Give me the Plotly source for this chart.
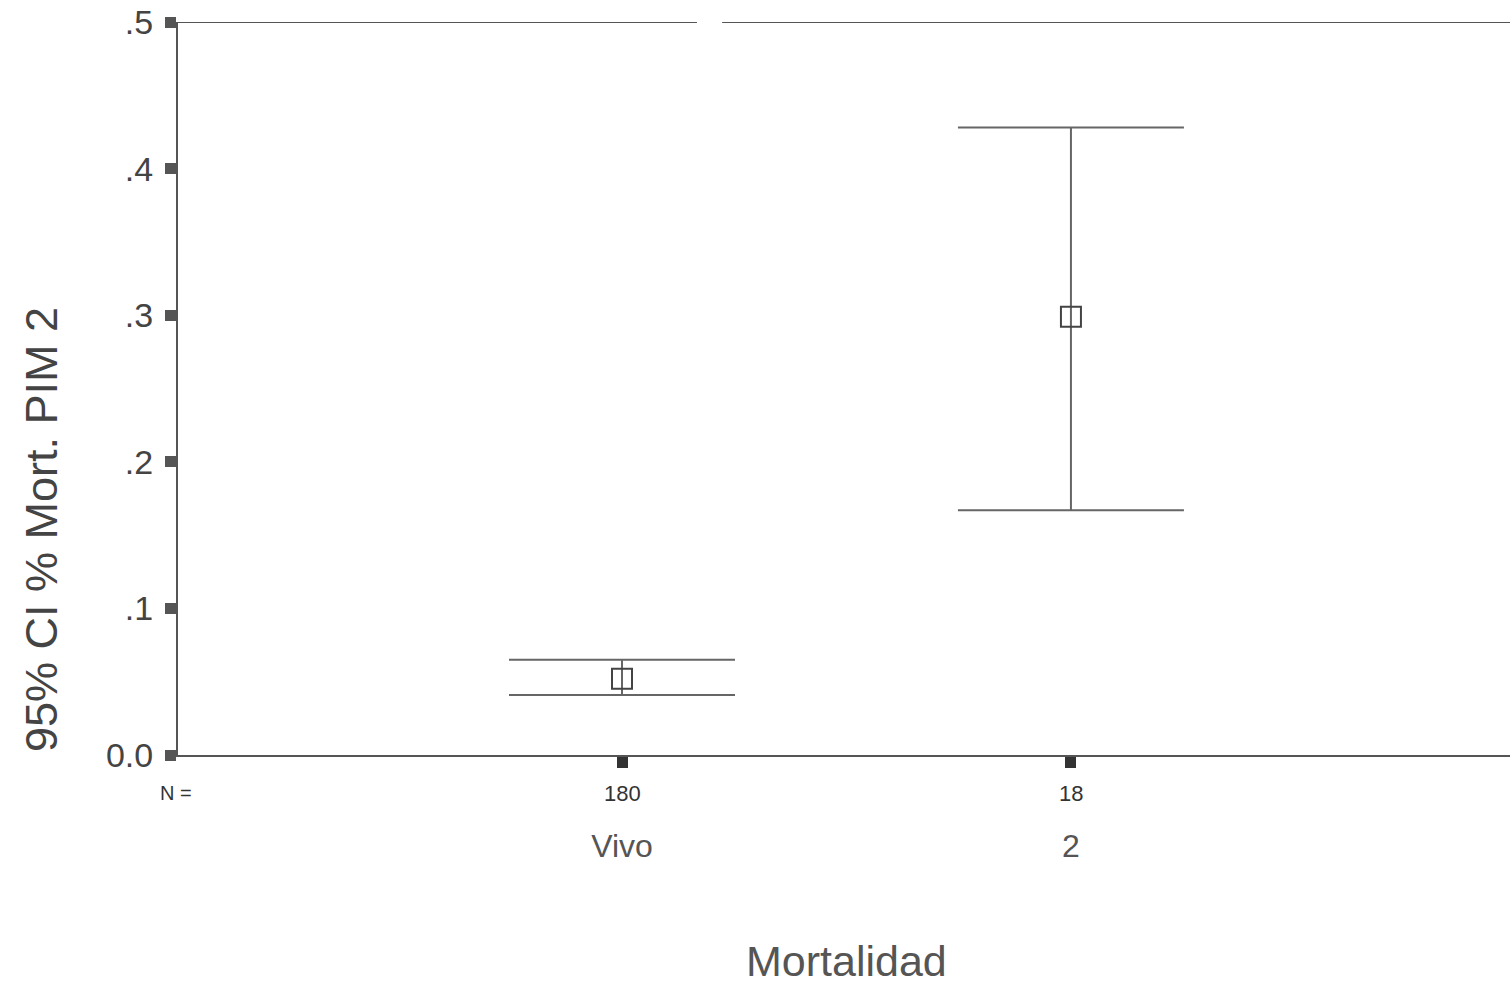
import plotly.graph_objects as go

# Group means of predicted mortality (PIM 2) with 95% confidence limits
categories = ["Vivo", "2"]
group_n = [180, 18]
mean_mort = [0.052, 0.299]
ci_lower = [0.041, 0.167]
ci_upper = [0.065, 0.428]

y_ticks = [0.0, 0.1, 0.2, 0.3, 0.4, 0.5]
y_tick_labels = ["0.0", ".1", ".2", ".3", ".4", ".5"]

x_pos = list(range(1, len(categories) + 1))
err_plus = [u - m for u, m in zip(ci_upper, mean_mort)]
err_minus = [m - l for m, l in zip(mean_mort, ci_lower)]

FONT = "Arial, Liberation Sans, sans-serif"
INK = "#555555"

fig = go.Figure()
fig.add_trace(go.Scatter(
    x=x_pos,
    y=mean_mort,
    mode="markers",
    marker=dict(symbol="square-open", size=20, color="#444444",
                line=dict(width=2, color="#444444")),
    error_y=dict(type="data", symmetric=False, array=err_plus,
                 arrayminus=err_minus, width=113, thickness=2,
                 color="#666666"),
    showlegend=False,
    hoverinfo="skip",
))

# Case counts under each group
N_ROW_Y = -0.052
fig.add_annotation(x=-0.0015, y=N_ROW_Y, xref="paper", yref="paper", text="N =",
                   showarrow=False, xanchor="center", yanchor="middle",
                   font=dict(family=FONT, size=20, color="#333333"))
for xp, n in zip(x_pos, group_n):
    fig.add_annotation(x=xp, y=N_ROW_Y, xref="x", yref="paper", text=str(n),
                       showarrow=False, yanchor="middle",
                       font=dict(family=FONT, size=22, color="#333333"))

# Axis titles
fig.add_annotation(x=-0.102, y=0.307, xref="paper", yref="paper",
                   text="95% CI % Mort. PIM 2", textangle=-90, showarrow=False,
                   xanchor="center", yanchor="middle",
                   font=dict(family=FONT, size=45, color="#444444"))
fig.add_annotation(x=0.502, y=-0.281, xref="paper", yref="paper",
                   text="Mortalidad", showarrow=False,
                   xanchor="center", yanchor="middle",
                   font=dict(family=FONT, size=43, color=INK))

# Top frame border (with its small break)
fig.add_shape(type="line", xref="x", yref="y", x0=0.011, x1=1.167, y0=0.5, y1=0.5,
              line=dict(color=INK, width=2))
fig.add_shape(type="line", xref="x", yref="y", x0=1.223, x1=2.978, y0=0.5, y1=0.5,
              line=dict(color=INK, width=2))

fig.update_layout(
    width=1510, height=990,
    margin=dict(l=178, r=0, t=22, b=235),
    paper_bgcolor="white", plot_bgcolor="white",
    font=dict(family=FONT, color=INK),
    xaxis=dict(
        range=[0.011, 2.978],
        tickmode="array", tickvals=x_pos, ticktext=categories,
        ticks="outside", ticklen=11, tickwidth=11, tickcolor="#333333",
        ticklabelstandoff=51,
        tickfont=dict(family=FONT, size=32, color=INK),
        showline=True, linecolor=INK, linewidth=2,
        showgrid=False, zeroline=False,
    ),
    yaxis=dict(
        range=[0, 0.5],
        tickmode="array", tickvals=y_ticks, ticktext=y_tick_labels,
        ticks="outside", ticklen=11, tickwidth=11, tickcolor="#555555",
        ticklabelstandoff=5,
        tickfont=dict(family=FONT, size=34, color="#444444"),
        showline=True, linecolor=INK, linewidth=2,
        showgrid=False, zeroline=False,
    ),
)

fig.write_html("out.html")
